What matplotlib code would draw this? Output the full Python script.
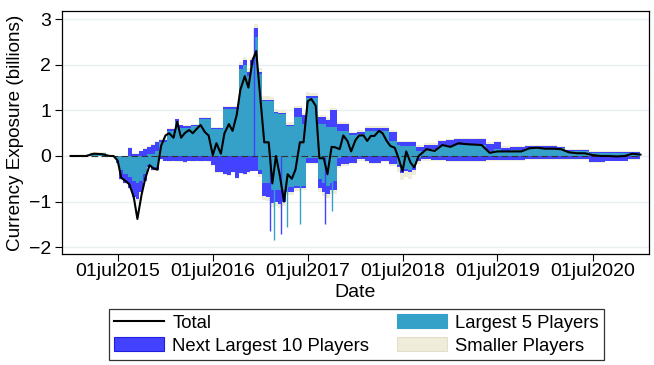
import numpy as np
import pandas as pd
import matplotlib
matplotlib.use("Agg")
import matplotlib.pyplot as plt
import matplotlib.dates as mdates
from matplotlib.lines import Line2D
from matplotlib.patches import Patch
from matplotlib.ticker import FuncFormatter

plt.rcParams["font.family"] = ["Liberation Sans", "DejaVu Sans"]

# dates: monthly early/late, semi-monthly through the volatile middle
dates = pd.DatetimeIndex(
    list(pd.date_range("2015-01-01", "2015-06-01", freq="MS"))
    + list(pd.date_range("2015-06-15", "2018-10-01", freq="SMS"))
    + list(pd.date_range("2018-11-01", "2021-01-01", freq="MS"))
)

# total exposure (billions)
total = [
    0, 0, 0, 0.05, 0.04, 0,
    0, -0.1, -0.48, -0.55, -0.62, -0.9, -1.38, -0.85, -0.5, -0.2,
    -0.27, -0.3, 0.22, 0.45, 0.5, 0.4, 0.75, 0.4, 0.5, 0.57,
    0.5, 0.6, 0.68, 0.52, 0.45, 0.02, 0.28, 0.05, 0.5, 0.7,
    0.55, 0.9, 1.45, 1.75, 1.5, 2.1, 2.3, 1.2, 0.3, 0.3,
    -0.6, 0.0, -0.4, -1.0, -0.4, -0.5, -0.3, 0.3, 0.3, 1.2,
    1.25, 1.1, -0.05, -0.05, -0.4, 0.2, 0.19, 0.15, 0.45, 0.33,
    0.1, 0.35, 0.45, 0.45, 0.33, 0.44, 0.44, 0.55, 0.5, 0.33,
    0.22, 0.18, -0.04, -0.33, 0.1, -0.15, -0.25, 0.0, 0.07, 0.15,
    0.11, 0.24, 0.2, 0.28, 0.26, 0.25, 0.24, 0.07, 0.1, 0.1,
    0.1, 0.1, 0.17, 0.18, 0.16, 0.16, 0.15, 0.08, 0.06, 0.06,
    0.02, 0.0, 0.0, -0.01, 0.0, 0.05, 0.03,
]

# largest 5 players: long and short parts
l5_pos = [
    0, 0, 0, 0.07, 0.07, 0,
    0, 0, 0, 0, 0, 0, 0, 0, 0, 0.05,
    0.05, 0.1, 0.3, 0.3, 0.55, 0.55, 0.75, 0.62, 0.62, 0.62,
    0.66, 0.66, 0.8, 0.8, 0.8, 0.6, 0.6, 0.6, 1.02, 1.02,
    1.02, 1.02, 1.9, 2.0, 1.75, 2.0, 2.6, 1.8, 1.2, 1.2,
    1.2, 0.95, 0.92, 0.92, 0.66, 0.66, 0.85, 0.85, 0.7, 1.28,
    1.28, 1.28, 0.7, 0.7, 0.63, 0.63, 0.63, 0.55, 0.55, 0.55,
    0.45, 0.45, 0.48, 0.48, 0.55, 0.55, 0.55, 0.55, 0.55, 0.55,
    0.33, 0.33, 0.25, 0.22, 0.22, 0.22, 0.22, 0.1, 0.1, 0.15,
    0.15, 0.22, 0.22, 0.25, 0.25, 0.25, 0.25, 0.12, 0.15, 0.12,
    0.14, 0.14, 0.18, 0.18, 0.18, 0.18, 0.17, 0.11, 0.11, 0.11,
    0.06, 0.06, 0.06, 0.06, 0.06, 0.06, 0.06,
]
l5_neg = [
    0, 0, 0, 0, 0, 0,
    0, -0.1, -0.3, -0.4, -0.45, -0.55, -0.6, -0.55, -0.4, -0.2,
    -0.25, -0.25, 0, 0, 0, 0, 0, 0, 0, 0,
    0, 0, 0, 0, 0, 0, 0, 0, 0, 0,
    0, 0, 0, 0, 0, 0, 0, -0.3, -0.6, -0.6,
    -0.75, -0.75, -0.75, -0.75, -0.68, -0.68, -0.65, -0.65, -0.65, -0.05,
    -0.05, -0.05, -0.5, -0.6, -0.65, -0.6, -0.55, -0.05, 0, 0,
    0, 0, 0, 0, 0, 0, 0, 0, 0, 0,
    0, 0, -0.2, -0.3, -0.28, -0.3, -0.25, -0.05, 0, 0,
    0, 0, 0, 0, 0, 0, 0, 0, 0, 0,
    0, 0, 0, 0, 0, 0, 0, 0, 0, 0,
    0, 0, 0, 0, 0, 0, 0,
]

# next largest 10 players
n10_pos = [
    0, 0, 0, 0, 0, 0,
    0, 0, 0, 0, 0.18, 0.05, 0.05, 0.1, 0.15, 0.15,
    0.2, 0.2, 0.05, 0.05, 0.05, 0.05, 0.05, 0.05, 0.03, 0.03,
    0.03, 0.03, 0.03, 0.03, 0.03, 0.02, 0.02, 0.02, 0.05, 0.05,
    0.05, 0.05, 0.1, 0.1, 0.1, 0.1, 0.2, 0.05, 0.02, 0.02,
    0.02, 0.02, 0.03, 0.03, 0.03, 0.03, 0.2, 0.2, 0.2, 0.03,
    0.03, 0.03, 0.15, 0.15, 0.15, 0.37, 0.37, 0.15, 0.15, 0.15,
    0.05, 0.05, 0.05, 0.05, 0.07, 0.07, 0.07, 0.07, 0.07, 0.07,
    0.2, 0.2, 0.05, 0.08, 0.08, 0.08, 0.08, 0.1, 0.1, 0.1,
    0.1, 0.1, 0.12, 0.12, 0.12, 0.12, 0.12, 0.15, 0.15, 0.06,
    0.06, 0.06, 0.03, 0.03, 0.03, 0.03, 0.03, 0.03, 0.03, 0.03,
    0.02, 0.02, 0.02, 0.02, 0.02, 0.02, 0.02,
]
n10_neg = [
    0, 0, 0, 0, 0, 0,
    0, -0.05, -0.2, -0.2, -0.25, -0.35, -0.35, -0.25, -0.15, -0.05,
    -0.05, -0.05, -0.07, -0.1, -0.12, -0.1, -0.12, -0.12, -0.14, -0.1,
    -0.12, -0.1, -0.12, -0.1, -0.12, -0.2, -0.35, -0.35, -0.4, -0.42,
    -0.35, -0.48, -0.38, -0.4, -0.35, -0.32, -0.32, -0.1, -0.28, -0.3,
    -0.28, -0.25, -0.3, -0.25, -0.1, -0.1, -0.05, -0.05, -0.05, -0.1,
    -0.1, -0.1, -0.2, -0.18, -0.18, -0.15, -0.2, -0.18, -0.18, -0.18,
    -0.15, -0.15, -0.07, -0.07, -0.1, -0.15, -0.15, -0.15, -0.1, -0.1,
    -0.18, -0.18, -0.05, -0.07, -0.05, -0.05, -0.05, -0.07, -0.07, -0.07,
    -0.08, -0.08, -0.1, -0.1, -0.1, -0.1, -0.1, -0.08, -0.08, -0.08,
    -0.08, -0.08, -0.07, -0.07, -0.07, -0.07, -0.07, -0.07, -0.07, -0.07,
    -0.13, -0.13, -0.1, -0.1, -0.1, -0.07, -0.07,
]

# smaller players
sm_pos = [
    0, 0, 0, 0.01, 0.01, 0,
    0, 0, 0, 0, 0.02, 0.02, 0.02, 0.02, 0.02, 0.02,
    0.02, 0.02, 0.02, 0.02, 0.02, 0.02, 0.02, 0.02, 0.02, 0.02,
    0.02, 0.02, 0.02, 0.02, 0.02, 0.02, 0.02, 0.02, 0.03, 0.03,
    0.03, 0.03, 0.06, 0.08, 0.08, 0.08, 0.1, 0.08, 0.1, 0.1,
    0.08, 0.06, 0.06, 0.05, 0.05, 0.05, 0.05, 0.05, 0.05, 0.1,
    0.08, 0.08, 0.05, 0.05, 0.05, 0.05, 0.05, 0.04, 0.04, 0.04,
    0.03, 0.03, 0.03, 0.03, 0.03, 0.03, 0.03, 0.03, 0.03, 0.03,
    0.03, 0.03, 0.03, 0.03, 0.03, 0.03, 0.03, 0.03, 0.03, 0.03,
    0.03, 0.03, 0.03, 0.03, 0.03, 0.03, 0.03, 0.03, 0.03, 0.03,
    0.02, 0.02, 0.02, 0.02, 0.02, 0.02, 0.02, 0.02, 0.02, 0.02,
    0.02, 0.02, 0.02, 0.02, 0.02, 0.02, 0.02,
]
sm_neg = [
    0, 0, 0, 0, 0, 0,
    0, 0, -0.02, -0.02, -0.03, -0.03, -0.03, -0.03, -0.02, -0.02,
    -0.02, -0.02, -0.02, -0.02, -0.02, -0.02, -0.02, -0.02, -0.02, -0.02,
    -0.02, -0.02, -0.02, -0.02, -0.02, -0.02, -0.02, -0.02, -0.02, -0.02,
    -0.02, -0.02, -0.02, -0.02, -0.02, -0.02, -0.02, -0.05, -0.08, -0.08,
    -0.08, -0.1, -0.1, -0.1, -0.08, -0.08, -0.06, -0.06, -0.05, -0.03,
    -0.03, -0.03, -0.08, -0.1, -0.1, -0.08, -0.08, -0.03, -0.03, -0.03,
    -0.03, -0.03, -0.03, -0.03, -0.03, -0.03, -0.03, -0.03, -0.03, -0.03,
    -0.03, -0.03, -0.1, -0.15, -0.12, -0.15, -0.12, -0.05, -0.03, -0.03,
    -0.03, -0.03, -0.03, -0.03, -0.03, -0.03, -0.03, -0.03, -0.03, -0.03,
    -0.02, -0.02, -0.02, -0.02, -0.02, -0.02, -0.02, -0.02, -0.02, -0.02,
    -0.02, -0.02, -0.02, -0.02, -0.02, -0.02, -0.02,
]

# one-day spikes
blue_spike_dates = ["2016-12-08", "2017-02-06", "2017-03-20", "2017-09-07"]
blue_spike_vals = [2.8, -1.65, -1.7, -1.5]
teal_spike_dates = ["2017-02-20", "2017-04-12", "2017-06-01", "2017-10-04"]
teal_spike_vals = [-1.85, -1.55, -1.5, -1.2]

TEAL = "#35A1C9"
BLUE = "#4343FF"
BLUE_EDGE = "#1F1FE0"
BEIGE = "#EFEDD9"
BEIGE_EDGE = "#E4E0C8"

l5p, l5n = np.array(l5_pos), np.array(l5_neg)
p2 = l5p + np.array(n10_pos)
n2 = l5n + np.array(n10_neg)
p3 = p2 + np.array(sm_pos)
n3 = n2 + np.array(sm_neg)

fig = plt.figure(figsize=(6.54, 3.65), dpi=100)
ax = fig.add_axes([0.0948, 0.304, 0.8976, 0.666])

ax.set_axisbelow(True)
ax.yaxis.grid(True, color="#E8F0F2", lw=1.0)

ax.vlines(pd.to_datetime(blue_spike_dates), 0, blue_spike_vals, color=BLUE, lw=1.0)
ax.vlines(pd.to_datetime(teal_spike_dates), 0, teal_spike_vals, color=TEAL, lw=1.0)

ax.fill_between(dates, p2, p3, step="mid", color=BEIGE, lw=0)
ax.fill_between(dates, n2, n3, step="mid", color=BEIGE, lw=0)
ax.fill_between(dates, l5p, p2, step="mid", color=BLUE, lw=0)
ax.fill_between(dates, l5n, n2, step="mid", color=BLUE, lw=0)
ax.fill_between(dates, 0, l5p, step="mid", color=TEAL, lw=0)
ax.fill_between(dates, 0, l5n, step="mid", color=TEAL, lw=0)

ax.plot([dates[0], dates[-1]], [0, 0], color="#333333", lw=0.8, ls=(0, (6, 3)))
ax.plot(dates, total, color="black", lw=1.5)

ax.set_xlim(pd.Timestamp("2014-11-29"), pd.Timestamp("2021-02-03"))
ax.set_ylim(-2.15, 3.18)
ax.set_yticks([-2, -1, 0, 1, 2, 3])
ax.set_xticks(pd.to_datetime(["2015-07-01", "2016-07-01", "2017-07-01",
                              "2018-07-01", "2019-07-01", "2020-07-01"]))
ax.xaxis.set_major_formatter(FuncFormatter(
    lambda v, p: mdates.num2date(v).strftime("%d%b%Y").lower()))

FS = 14
ax.tick_params(axis="both", labelsize=FS, length=5, width=0.8, color="black")
ax.tick_params(axis="x", pad=1.5)
ax.tick_params(axis="y", pad=3)
ax.set_xlabel("Date", fontsize=FS, labelpad=3)
ax.set_ylabel("Currency Exposure (billions)", fontsize=13.6, labelpad=3)
for s in ax.spines.values():
    s.set_color("black")
    s.set_linewidth(0.9)

handles = [
    Line2D([], [], color="black", lw=1.5),
    Patch(facecolor=BLUE, edgecolor=BLUE_EDGE, lw=0.8),
    Patch(facecolor=TEAL, edgecolor=TEAL, lw=0.8),
    Patch(facecolor=BEIGE, edgecolor=BEIGE_EDGE, lw=0.8),
]
labels = ["Total", "Next Largest 10 Players", "Largest 5 Players", "Smaller Players"]
leg = fig.legend(handles, labels, ncol=2, loc="center", bbox_to_anchor=(0.545, 0.0836),
                 fontsize=13.3, frameon=True, fancybox=False, edgecolor="black",
                 handlelength=2.7, handleheight=0.75, handletextpad=0.43,
                 columnspacing=1.5, labelspacing=0.32, borderpad=0.3)
leg.get_frame().set_linewidth(0.9)

fig.savefig("out.png", dpi=100, facecolor="white")
